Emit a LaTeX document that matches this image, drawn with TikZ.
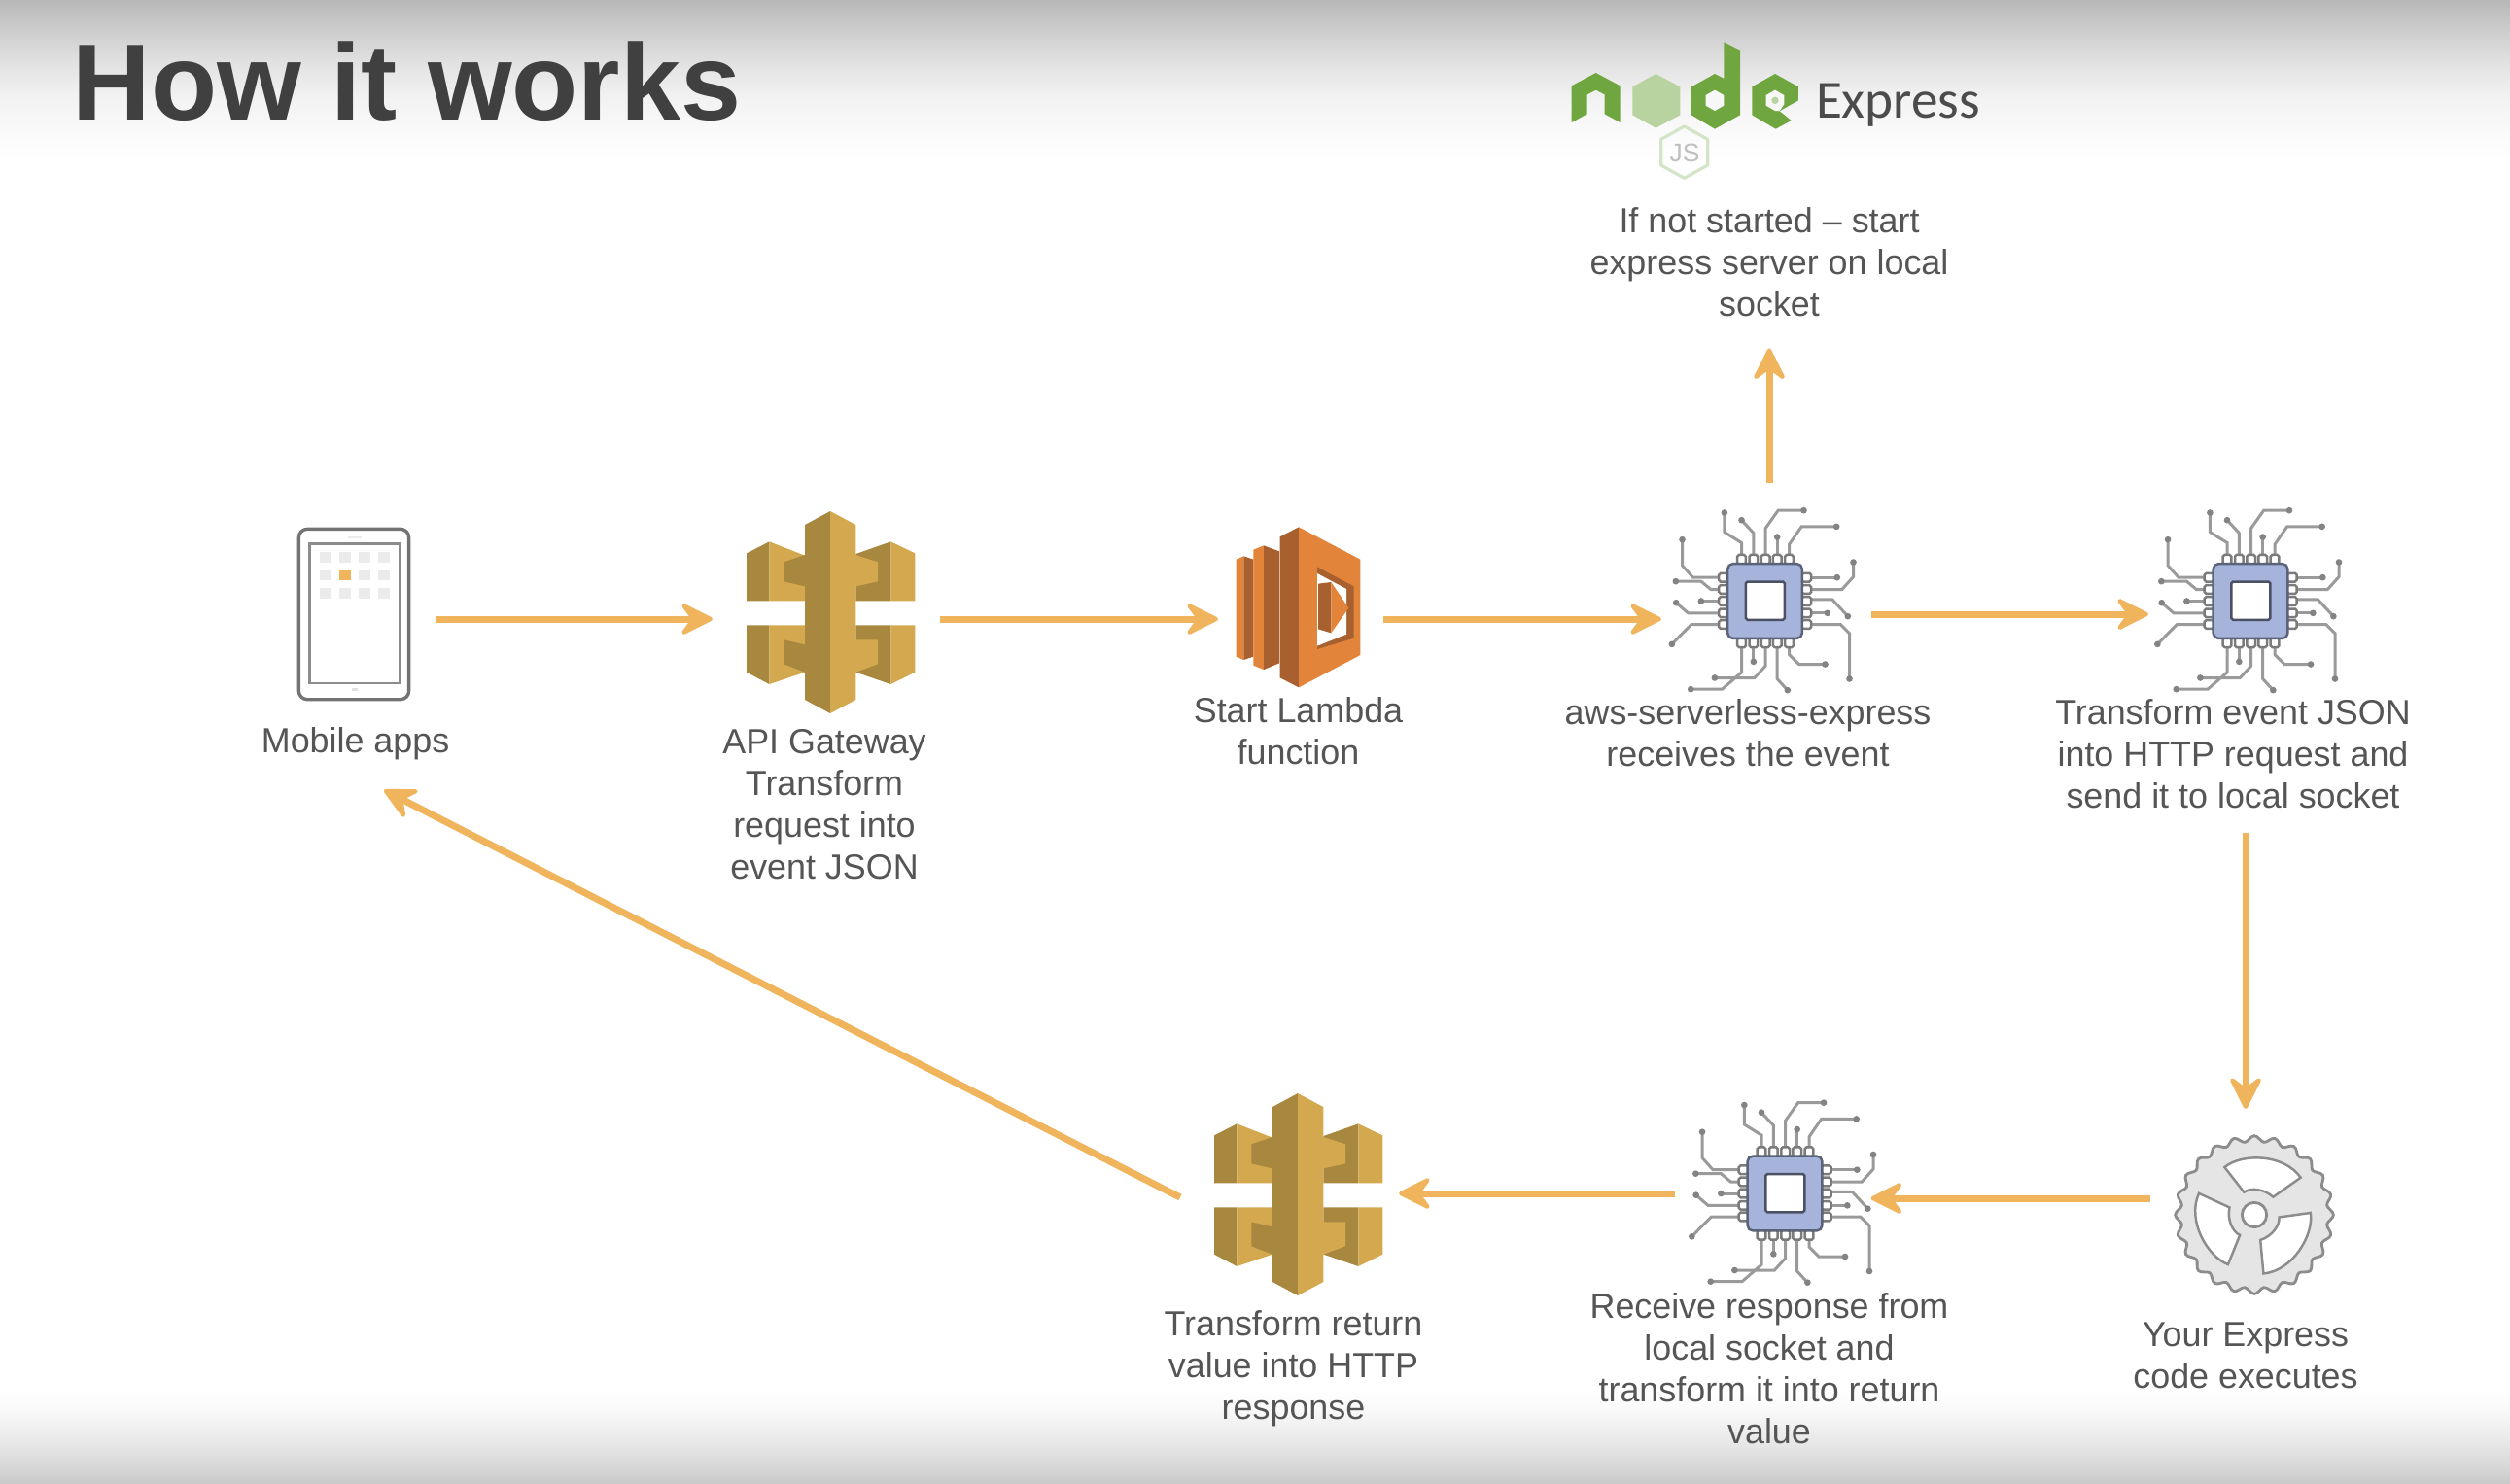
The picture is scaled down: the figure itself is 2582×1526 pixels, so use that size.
\documentclass[tikz,border=0pt]{standalone}
\usepackage{fontspec}
\setmainfont{Liberation Sans}
\newfontfamily\calibrifont{Carlito}
\usetikzlibrary{arrows.meta}
\definecolor{flowcol}{HTML}{F0B45C}
\definecolor{txtcol}{HTML}{555555}
\definecolor{wirecol}{HTML}{9A9A9A}
\definecolor{chipcol}{HTML}{A6B4DC}
\definecolor{gwdark}{HTML}{A8883F}
\definecolor{gwlight}{HTML}{D3A84E}
\definecolor{lamlight}{HTML}{E2853B}
\definecolor{lamdark}{HTML}{A8602F}
\definecolor{nodegreen}{HTML}{70A640}
\pgfdeclareverticalshading{topband}{100bp}{color(0bp)=(white); color(25bp)=(white); color(35bp)=(black!2); color(45bp)=(black!5); color(55bp)=(black!11); color(65bp)=(black!19); color(75bp)=(black!28); color(100bp)=(black!28)}
\pgfdeclareverticalshading{bottomband}{100bp}{color(0bp)=(black!21); color(25bp)=(black!21); color(35bp)=(black!15); color(45bp)=(black!10); color(55bp)=(black!6); color(65bp)=(black!2); color(75bp)=(white); color(100bp)=(white)}
\tikzset{
 flow/.style={line width=2pt,flowcol,-{Stealth[length=11pt,width=11pt,inset=4pt,round,line width=1.2pt]}},
 lbl/.style={text=txtcol,align=center,inner xsep=0pt,inner ysep=7pt,font=\fontsize{10.2}{12.2}\selectfont},
 hold/.style={inner sep=0pt,outer sep=0pt},
 wire/.style={wirecol,line width=.85pt},
 pics/chip/.style={code={
  \begin{scope}[scale=.3333,shift={(-377,-325)}]
  %wires
  \foreach \wr/\dx/\dy in {
   {(305,182)--(305,145)--(252,112)--(252,52)}/252/52,
   {(342,182)--(342,115)--(305,75)}/305/75,
   {(379,182)--(379,100)--(418,45)--(497,45)}/497/45,
   {(415,182)--(415,127)}/415/127,
   {(452,182)--(452,150)--(490,95)--(598,95)}/598/95,
   {(235,252)--(155,252)--(122,215)--(122,135)}/122/135,
   {(235,289)--(210,289)--(180,264)--(102,264)}/102/264,
   {(235,325)--(180,325)}/180/325,
   {(235,362)--(140,362)--(103,330)}/103/330,
   {(235,397)--(150,397)--(90,458)}/90/458,
   {(520,252)--(600,252)}/600/252,
   {(520,289)--(615,289)--(650,250)--(650,205)}/650/205,
   {(520,320)--(585,320)--(633,372)}/633/372,
   {(520,362)--(570,362)}/570/362,
   {(520,397)--(610,397)--(638,425)--(638,565)}/638/565,
   {(305,468)--(305,545)--(245,597)--(148,597)}/148/597,
   {(342,468)--(342,512)}/342/512,
   {(379,468)--(379,525)--(345,562)--(222,562)}/222/562,
   {(415,468)--(415,565)--(447,600)}/447/600,
   {(452,468)--(452,490)--(482,520)--(563,520)}/563/520}{
   \draw[wire] \wr;
   \fill[wirecol!85!black] (\dx,\dy) circle (10);
  }
  %pins
  \foreach \p in {305,342,379,415,452}{
   \draw[fill=white,draw=wirecol!80!black,line width=.7pt,rounded corners=.5pt] (\p-13,182) rectangle (\p+13,212);
   \draw[fill=white,draw=wirecol!80!black,line width=.7pt,rounded corners=.5pt] (\p-13,438) rectangle (\p+13,468);
  }
  \foreach \p in {252,289,325,362,397}{
   \draw[fill=white,draw=wirecol!80!black,line width=.7pt,rounded corners=.5pt] (235,\p-13) rectangle (265,\p+13);
   \draw[fill=white,draw=wirecol!80!black,line width=.7pt,rounded corners=.5pt] (490,\p-13) rectangle (520,\p+13);
  }
  %body
  \draw[fill=chipcol,draw=chipcol!55!black,line width=.7pt,rounded corners=1.5pt] (262,210) rectangle (492,440);
  \draw[fill=white,draw=chipcol!45!black,line width=.7pt,rounded corners=.5pt] (318,265) rectangle (438,383);
  \end{scope}
 }},
 pics/gateway/.style={code={
  \begin{scope}[scale=.3333,shift={(-343,-360)}]
  \fill[gwdark] (85,178)--(155,142)--(155,325)--(85,325)--cycle;
  \fill[gwlight] (155,142)--(265,185)--(265,325)--(155,325)--cycle;
  \fill[gwdark] (200,205)--(265,183)--(265,280)--(200,265)--cycle;
  \fill[gwdark] (422,180)--(530,142)--(530,325)--(422,325)--cycle;
  \fill[gwlight] (530,142)--(605,178)--(605,325)--(530,325)--cycle;
  \fill[gwlight] (422,183)--(490,205)--(490,265)--(422,280)--cycle;
  \fill[gwdark] (85,400)--(155,400)--(155,582)--(85,545)--cycle;
  \fill[gwlight] (155,400)--(265,400)--(265,545)--(155,582)--cycle;
  \fill[gwdark] (200,445)--(265,460)--(265,545)--(200,520)--cycle;
  \fill[gwdark] (422,400)--(530,400)--(530,582)--(422,545)--cycle;
  \fill[gwlight] (530,400)--(605,400)--(605,545)--(530,582)--cycle;
  \fill[gwlight] (422,445)--(490,445)--(490,520)--(422,545)--cycle;
  \fill[gwdark] (265,90)--(343,48)--(343,672)--(265,630)--cycle;
  \fill[gwlight] (343,48)--(422,90)--(422,630)--(343,672)--cycle;
  \end{scope}
 }},
 pics/lambdaicon/.style={code={
  \begin{scope}[scale=.3333,shift={(-255,-283)}]
  \fill[lamlight] (65,135)--(88,125)--(88,445)--(65,435)--cycle;
  \fill[lamdark] (88,125)--(118,135)--(118,435)--(88,445)--cycle;
  \fill[lamlight] (118,105)--(150,92)--(150,475)--(118,462)--cycle;
  \fill[lamdark] (150,92)--(198,110)--(198,455)--(150,475)--cycle;
  \fill[lamdark] (200,65)--(258,35)--(258,530)--(200,500)--cycle;
  \fill[lamlight] (258,35)--(448,135)--(448,430)--(258,530)--cycle;
  \fill[lamdark] (315,158)--(428,218)--(428,378)--(315,412)--cycle;
  \fill[white] (315,178)--(405,226)--(405,366)--(315,402)--cycle;
  \fill[lamdark] (318,210)--(358,205)--(358,362)--(318,350)--cycle;
  \fill[lamlight] (358,205)--(412,285)--(358,362)--cycle;
  \end{scope}
 }},
 pics/tablet/.style={code={
  \begin{scope}[scale=.3333,shift={(-222,-305)}]
  \draw[line width=.95pt,draw=black!55,rounded corners=2.5pt] (52,42) rectangle (392,568);
  \draw[line width=.75pt,draw=black!45] (85,88) rectangle (365,518);
  \foreach \x in {135,195,255,315}
   \foreach \y in {130,185,240}
    \fill[black!8] (\x-19,\y-16) rectangle (\x+19,\y+16);
  \fill[flowcol] (176,169) rectangle (214,201);
  \fill[black!8] (205,66) rectangle (245,70);
  \fill[black!12] (215,532) rectangle (235,542);
  \end{scope}
 }},
 pics/gear/.style={code={
  \begin{scope}[scale=.3333]
  \draw[fill=black!10,draw=black!45,line width=.8pt] plot[domain=0:360,samples=193,smooth]
   ({(235+9*cos(24*\x))*cos(\x)},{(235+9*cos(24*\x))*sin(\x)})--cycle;
  \foreach \r in {0,120,240}
   \draw[fill=white,draw=black!45,line width=.7pt,rotate=\r]
    (-92,-147) .. controls (-40,-190) and (90,-190) .. (143,-115)--(58,-55)
    .. controls (30,-80) and (-10,-85) .. (-32,-70)--cycle;
  \draw[fill=white,draw=black!45,line width=.8pt] (0,0) circle (38);
  \end{scope}
 }},
 pics/nodelogo/.style={code={
  \begin{scope}[scale=.3333]
  \fill[nodegreen] (170,205)--(245,165)--(320,205)--(320,318)--(272,292)--(272,232)--(245,218)--(218,232)--(218,292)--(170,318)--cycle;
  \fill[nodegreen!50!white] (430,168)--(505,208)--(505,295)--(430,335)--(358,295)--(358,208)--cycle;
  \fill[nodegreen] (640,70)--(690,95)--(690,295)--(612,338)--(540,295)--(540,208)--(612,168)--(640,182)--cycle;
  \fill[black!3] (612,218)--(640,234)--(640,266)--(612,282)--(584,266)--(584,234)--cycle;
  \fill[nodegreen] (798,168)--(870,208)--(870,250)--(812,283)--(848,312)--(800,338)--(727,295)--(727,208)--cycle;
  \fill[black!3] (798,218)--(826,234)--(826,262)--(812,283)--(798,282)--(770,266)--(770,234)--cycle;
  \fill[nodegreen!50!white] (798,250) circle (11);
  \draw[line width=.9pt,draw=nodegreen!30!white,line join=round] (518,330)--(590,370)--(590,450)--(518,490)--(446,450)--(446,370)--cycle;
  \end{scope}
 }}
}
\begin{document}
\begin{tikzpicture}[x=.01cm,y=-.01cm]
\useasboundingbox (0,0) rectangle (2582,1526);
% background
\fill[white] (0,0) rectangle (2582,1526);
\shade[shading=topband] (0,0) rectangle (2582,168);
\shade[shading=bottomband] (0,1430) rectangle (2582,1526);
% title
\node[anchor=base west,inner sep=0pt,text=black!75,font=\fontsize{31.7}{36}\selectfont\bfseries] (title) at (74,123) {How it works};
% icons
\pic at (364,632) {tablet};
\pic at (854,630) {gateway};
\pic at (1335,625) {lambdaicon};
\pic at (1815.5,618.5) {chip};
\pic at (2315,618.5) {chip};
\pic at (1836,1228) {chip};
\pic at (1335,1229) {gateway};
\pic at (2319,1250) {gear};
\pic at (1560,20) {nodelogo};
\node[hold,text=black!25,font=\fontsize{7.5}{8}\selectfont] (js) at (1733,157) {JS};
\node[hold,anchor=west,text=black!70,font=\calibrifont\fontsize{15.7}{18}\selectfont] (express) at (1868,108) {Express};
% holders for the connectors
\node[hold,minimum width=2cm,minimum height=2cm] (tablet) at (348,637) {};
\node[hold,minimum width=2.34cm,minimum height=2cm] (gwA) at (850,637) {};
\node[hold,minimum width=1.7cm,minimum height=2cm] (lambda) at (1338,637) {};
\node[hold,minimum width=2.16cm,minimum height=2.7cm] (chipA) at (1817,632) {};
\node[hold,minimum width=2cm,minimum height=2cm] (chipB) at (2310,632) {};
\node[hold,minimum width=1.96cm,minimum height=1.84cm] (gear) at (2310,1233) {};
\node[hold,minimum width=2.01cm,minimum height=1cm] (chipC) at (1824,1228) {};
\node[hold,minimum width=2.25cm,minimum height=1cm] (gwB) at (1326.5,1232) {};
% labels
\node[lbl] (tabletlbl) at (365.6,765) {Mobile apps};
\node[lbl] (gwAlbl) at (848,827.5) {API Gateway\\Transform\\request into\\event JSON};
\node[lbl] (lambdalbl) at (1335.5,752) {Start Lambda\\function};
\node[lbl] (chipAlbl) at (1798,754) {aws-serverless-express\\receives the event};
\node[lbl] (chipBlbl) at (2297,776) {Transform event JSON\\into HTTP request and\\send it to local socket};
\node[lbl,inner ysep=9pt] (startlbl) at (1820,270) {If not started – start\\express server on local\\socket};
\node[lbl] (gearlbl) at (2310,1395) {Your Express\\code executes};
\node[lbl] (chipClbl) at (1820,1408) {Receive response from\\local socket and\\transform it into return\\value};
\node[lbl] (gwBlbl) at (1330.5,1408) {Transform return\\value into HTTP\\response};
\coordinate (backend) at (395,813);
% arrows
\draw[flow] (tablet.east)--(gwA.west);
\draw[flow] (gwA.east)--(lambda.west);
\draw[flow] (lambda.east)--(lambda.east -| chipA.west);
\draw[flow] (chipA.east)--(chipB.west);
\draw[flow] (startlbl.south |- chipA.north)--(startlbl.south);
\draw[flow] (gear.north |- chipBlbl.south)--(gear.north);
\draw[flow] (gear.west)--(gear.west -| chipC.east);
\draw[flow] (chipC.west)--(chipC.west -| gwB.east);
\draw[flow] (gwB.west)--(backend);
\end{tikzpicture}
\end{document}
